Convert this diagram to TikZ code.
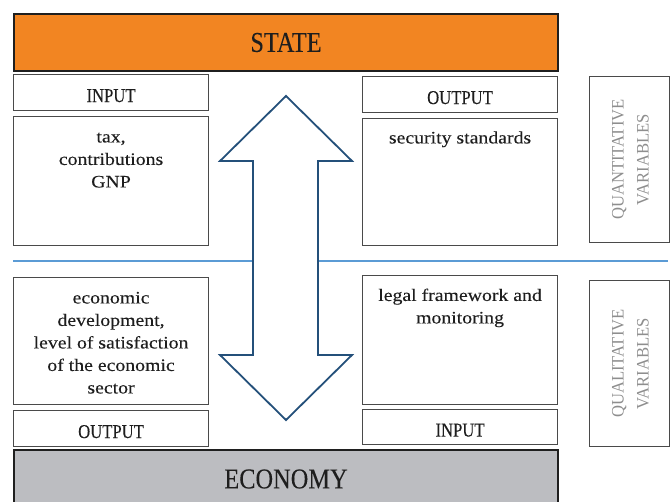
\documentclass[tikz,border=0pt]{standalone}
\usepackage{fontspec}
\setmainfont{Liberation Serif}
\newfontfamily\bodyf[FakeStretch=1.13,FakeBold=0.08]{Liberation Serif}
\newfontfamily\capf[FakeStretch=0.85,FakeBold=0.05]{Liberation Serif}
\newfontfamily\varf[FakeStretch=0.95]{Liberation Serif}
\definecolor{stateorange}{HTML}{F28522}
\definecolor{econgray}{HTML}{BCBDC1}
\definecolor{sepblue}{HTML}{5B9BD5}
\definecolor{arrowblue}{HTML}{24507A}
\definecolor{txt}{HTML}{1E1E1E}
\definecolor{boxline}{HTML}{4A4A4A}
\definecolor{vartxt}{HTML}{8E8E8E}
\begin{document}
\begin{tikzpicture}[x=1pt,y=-1pt,
  bigbox/.style={draw=black!88,line width=2pt,anchor=north west,inner sep=0pt,
    text=txt,font=\capf\fontsize{28.7}{32}\selectfont},
  smallbox/.style={draw=boxline,line width=1.1pt,fill=white,anchor=north west,inner sep=0pt,
    minimum width=195pt,text=txt,text height=19pt,text depth=0pt,
    font=\capf\fontsize{19.6}{22}\selectfont},
  varbox/.style={draw=boxline,line width=1.1pt,anchor=north west,inner sep=0pt,
    minimum width=80pt,minimum height=166pt},
  bodytext/.style={anchor=north,inner sep=0pt,align=center,text=txt,
    font=\bodyf\fontsize{17.5}{22.5}\selectfont},
  vartext/.style={rotate=90,inner sep=0pt,align=center,text=vartxt,
    font=\varf\fontsize{17.5}{25}\selectfont}]
\useasboundingbox (0,0) rectangle (672,502);
% separator line
\draw[sepblue,line width=2pt] (13,261) coordinate (sepL) -- (668,261) coordinate (sepR);
% state / economy
\node[bigbox,fill=stateorange,minimum width=544pt,minimum height=57pt] (state) at (13,13) {STATE};
\node[bigbox,fill=econgray,minimum width=544pt,minimum height=58pt] (economy) at (13,449) {ECONOMY};
% left column
\node[smallbox,minimum height=36pt] (inL) at (13,74) {INPUT};
\node[smallbox,minimum height=129pt] (taxbox) at (13,116) {};
\node[bodytext] (taxtext) at ([yshift=-10.5pt]taxbox.north) {\strut tax,\\contributions\\GNP};
\node[smallbox,minimum height=127pt] (ecobox) at (13,277) {};
\node[bodytext] (ecotext) at ([yshift=-10.5pt]ecobox.north) {\strut economic\\development,\\level of satisfaction\\of the economic\\sector};
\node[smallbox,minimum height=36pt] (outL) at (13,410) {OUTPUT};
% right column
\node[smallbox,minimum height=36pt] (outR) at (362,76) {OUTPUT};
\node[smallbox,minimum height=127pt] (secbox) at (362,118) {};
\node[bodytext] (sectext) at ([yshift=-9.5pt]secbox.north) {\strut security standards};
\node[smallbox,minimum height=129pt] (legbox) at (362,275) {};
\node[bodytext] (legtext) at ([yshift=-10pt]legbox.north) {\strut legal framework and\\monitoring};
\node[smallbox,minimum height=35pt] (inR) at (362,409) {INPUT};
% variable boxes
\node[varbox] (quant) at (589,76) {};
\node[vartext] (quanttext) at ([xshift=1pt]quant.center) {QUANTITATIVE\\VARIABLES};
\node[varbox] (qual) at (589,280) {};
\node[vartext] (qualtext) at ([xshift=1pt]qual.center) {QUALITATIVE\\VARIABLES};
% double arrow
\draw[arrowblue,line width=1.8pt,fill=white,line join=miter]
  (286,96) -- (352,161) -- (318,161) -- (318,355) -- (352,355) -- (286,420)
  -- (220,355) -- (253,355) -- (253,161) -- (220,161) -- cycle;
\end{tikzpicture}
\end{document}
